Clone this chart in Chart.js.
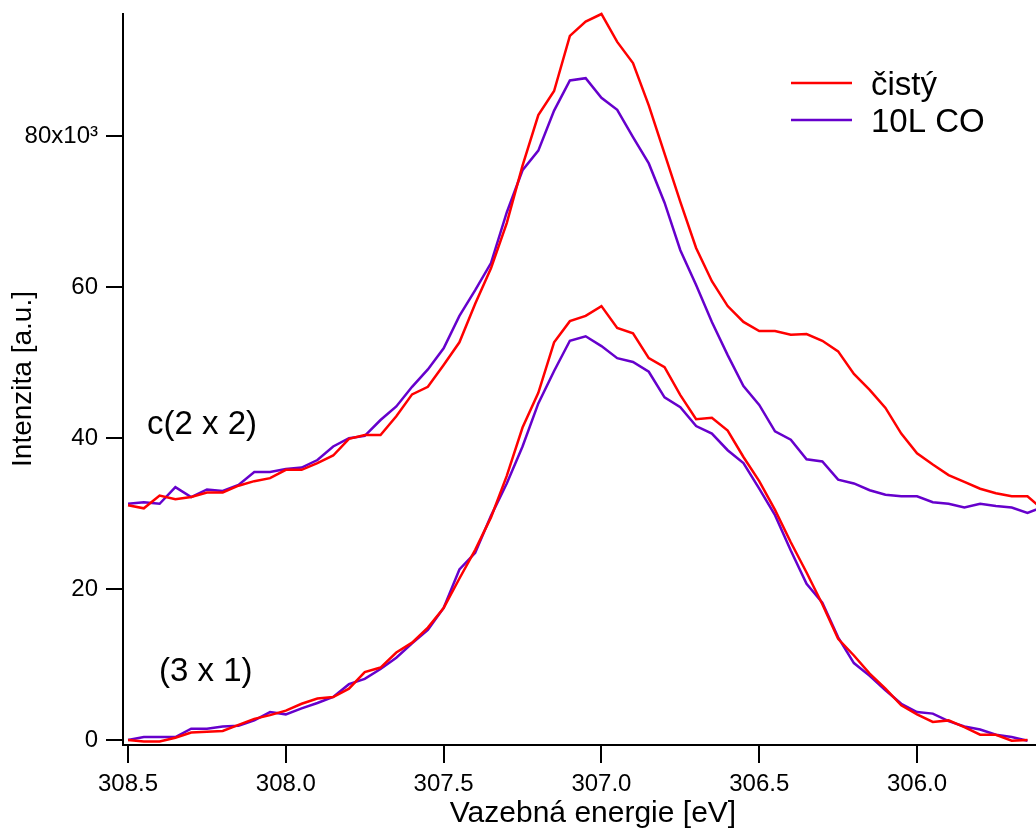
<!DOCTYPE html>
<html>
<head>
<meta charset="utf-8">
<script src="https://cdn.jsdelivr.net/npm/chart.js@4.4.0/dist/chart.umd.min.js"></script>
<style>
html, body { margin: 0; padding: 0; background: #fff; }
#wrap { width: 1036px; height: 830px; position: relative; }
</style>
</head>
<body>
<div id="wrap"><canvas id="mainChart"></canvas></div>
<script>
// binding energy [eV], 0.05 eV steps
const energies = [
    308.50, 308.45, 308.40, 308.35, 308.30, 308.25, 308.20, 308.15, 308.10, 308.05,
    308.00, 307.95, 307.90, 307.85, 307.80, 307.75, 307.70, 307.65, 307.60, 307.55,
    307.50, 307.45, 307.40, 307.35, 307.30, 307.25, 307.20, 307.15, 307.10, 307.05,
    307.00, 306.95, 306.90, 306.85, 306.80, 306.75, 306.70, 306.65, 306.60, 306.55,
    306.50, 306.45, 306.40, 306.35, 306.30, 306.25, 306.20, 306.15, 306.10, 306.05,
    306.00, 305.95, 305.90, 305.85, 305.80, 305.75, 305.70, 305.65, 305.60
]

// intensities in units of 10^3
const cistyC2x2 = [
    31.1, 30.7, 32.4, 31.9, 32.2, 32.8, 32.8, 33.7, 34.3, 34.7,
    35.8, 35.8, 36.7, 37.7, 39.9, 40.4, 40.4, 42.9, 45.8, 46.8,
    49.7, 52.7, 57.8, 62.5, 68.5, 76.1, 82.8, 86.0, 93.3, 95.2,
    96.2, 92.5, 89.7, 84.1, 77.7, 71.3, 65.2, 60.8, 57.5, 55.4,
    54.2, 54.2, 53.7, 53.8, 52.9, 51.5, 48.5, 46.4, 44.0, 40.6,
    38.0, 36.5, 35.1, 34.2, 33.3, 32.7, 32.3, 32.3, 30.5
]
const coC2x2 = [
    31.3, 31.5, 31.3, 33.5, 32.2, 33.2, 33.0, 33.8, 35.5, 35.5,
    35.9, 36.1, 37.1, 38.9, 40.0, 40.3, 42.4, 44.2, 46.8, 49.1,
    51.9, 56.2, 59.6, 63.2, 69.9, 75.5, 78.1, 83.4, 87.4, 87.7,
    85.1, 83.5, 79.9, 76.4, 71.2, 64.9, 60.3, 55.4, 51.0, 46.9,
    44.4, 40.9, 39.8, 37.2, 36.9, 34.5, 34.0, 33.1, 32.5, 32.3,
    32.3, 31.5, 31.3, 30.8, 31.3, 31.0, 30.8, 30.1, 30.9
]
const cisty3x1 = [
    0.0, -0.2, -0.2, 0.3, 1.0, 1.1, 1.2, 2.0, 2.8, 3.3,
    3.9, 4.8, 5.5, 5.7, 6.8, 9.0, 9.6, 11.6, 12.9, 14.9,
    17.5, 21.4, 25.2, 29.5, 35.0, 41.4, 46.0, 52.7, 55.5, 56.2,
    57.5, 54.6, 53.9, 50.6, 49.4, 45.7, 42.5, 42.7, 41.0, 37.5,
    34.3, 30.5, 26.2, 22.2, 18.0, 13.4, 11.2, 8.8, 6.8, 4.6,
    3.4, 2.4, 2.6, 1.7, 0.7, 0.7, -0.1, 0.0
]
const co3x1 = [
    0.0, 0.4, 0.4, 0.4, 1.5, 1.5, 1.8, 1.9, 2.6, 3.7,
    3.4, 4.2, 4.9, 5.7, 7.4, 8.1, 9.4, 10.9, 12.8, 14.6,
    17.5, 22.6, 24.8, 29.7, 34.0, 38.9, 44.6, 48.9, 52.9, 53.5,
    52.2, 50.6, 50.1, 48.8, 45.4, 44.1, 41.6, 40.6, 38.4, 36.7,
    33.3, 29.8, 25.1, 20.7, 18.2, 13.6, 10.2, 8.5, 6.6, 4.8,
    3.7, 3.5, 2.5, 1.8, 1.4, 0.7, 0.4, -0.1
]

const xTicks = [308.5, 308.0, 307.5, 307.0, 306.5, 306.0]
const yTicks = [0, 20, 40, 60, 80]

const legendLabels = ['čistý', '10L CO']
const colors = ['#ff0000', '#6600cc']

const FONT = '"Liberation Sans", Arial, sans-serif'

const toPoints = vals => vals.map((v, i) => ({ x: energies[i], y: v }))

// legend, panel labels and axis titles
const extraText = {
    id: 'extraText',
    afterDraw(chart) {
        const ctx = chart.ctx
        ctx.save()
        ctx.fillStyle = '#000'
        ctx.textBaseline = 'alphabetic'

        ctx.font = '33px ' + FONT
        ctx.textAlign = 'left'
        ctx.fillText('c(2 x 2)', 147, 434)
        ctx.fillText('(3 x 1)', 159, 681)

        legendLabels.forEach((txt, i) => {
            const y = 83 + i * 37
            ctx.strokeStyle = colors[i]
            ctx.lineWidth = 2.5
            ctx.beginPath()
            ctx.moveTo(791, y)
            ctx.lineTo(852, y)
            ctx.stroke()
            ctx.fillText(txt, 871, y + 12)
        })

        ctx.font = '30px ' + FONT
        ctx.textAlign = 'center'
        ctx.fillText('Vazebná energie [eV]', 593, 822)

        ctx.font = '28px ' + FONT
        ctx.translate(31, 379)
        ctx.rotate(-Math.PI / 2)
        ctx.fillText('Intenzita [a.u.]', 0, 0)
        ctx.restore()
    }
}

const ctxMain = document.getElementById('mainChart').getContext('2d')

const mainChart = new Chart(ctxMain, {
    type: 'line',
    data: {
        datasets: [
            { label: legendLabels[0], data: toPoints(cistyC2x2), borderColor: colors[0] },
            { label: legendLabels[0], data: toPoints(cisty3x1), borderColor: colors[0] },
            { label: legendLabels[1], data: toPoints(coC2x2), borderColor: colors[1] },
            { label: legendLabels[1], data: toPoints(co3x1), borderColor: colors[1] }
        ]
    },
    options: {
        responsive: true,
        maintainAspectRatio: false,
        animation: false,
        layout: { padding: { top: 14, left: 0, right: 0, bottom: 0 } },
        elements: {
            point: { radius: 0 },
            line: { borderWidth: 2.5, tension: 0, fill: false }
        },
        datasets: { line: { clip: false } },
        plugins: {
            legend: { display: false },
            tooltip: { enabled: false }
        },
        scales: {
            x: {
                type: 'linear',
                reverse: true,
                min: 305.623,
                max: 308.516,
                afterBuildTicks: s => { s.ticks = xTicks.map(v => ({ value: v })) },
                afterFit: s => {
                    s.height = 85
                    s.paddingLeft = 0
                    s.paddingRight = 0
                },
                grid: { drawOnChartArea: false, drawTicks: true, tickLength: 18, color: '#000', lineWidth: 2 },
                border: { display: true, color: '#000', width: 2 },
                ticks: {
                    color: '#000',
                    font: { family: FONT, size: 24 },
                    padding: 7,
                    maxRotation: 0,
                    autoSkip: false,
                    callback: v => Number(v).toFixed(1)
                }
            },
            y: {
                type: 'linear',
                min: -0.66,
                max: 96.2,
                afterBuildTicks: s => { s.ticks = yTicks.map(v => ({ value: v })) },
                afterFit: s => {
                    s.width = 123
                    s.paddingTop = 0
                    s.paddingBottom = 0
                },
                grid: { drawOnChartArea: false, drawTicks: true, tickLength: 17, color: '#000', lineWidth: 2 },
                border: { display: true, color: '#000', width: 2 },
                ticks: {
                    color: '#000',
                    font: { family: FONT, size: 24 },
                    padding: 8,
                    autoSkip: false,
                    callback: v => v === 80 ? '80x10³' : String(v)
                }
            }
        }
    },
    plugins: [extraText]
})
</script>
</body>
</html>
